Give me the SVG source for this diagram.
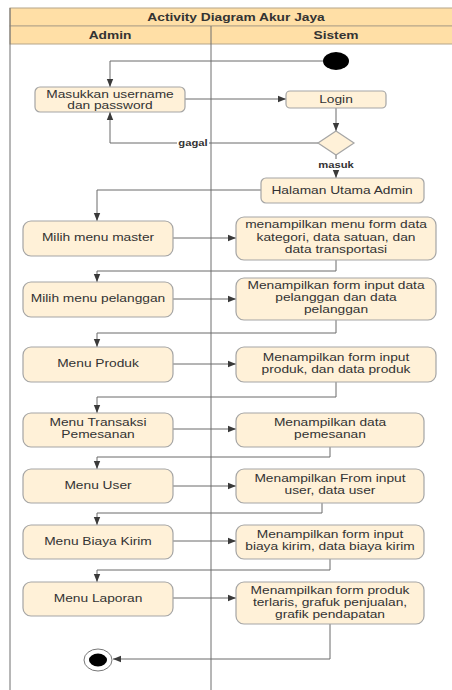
<svg xmlns="http://www.w3.org/2000/svg" width="452" height="690" viewBox="0 0 452 690">
<defs>
<marker id="ah" viewBox="0 0 10 10" refX="10" refY="5" markerWidth="8" markerHeight="8" markerUnits="userSpaceOnUse" orient="auto">
<path d="M0,1 L10,5 L0,9 z" fill="#3a3a3a"/>
</marker>
<style>
.hdr{fill:#FFDFA6;stroke:#b5a58a;stroke-width:1}
.lane{fill:none;stroke:#6f6f6f;stroke-width:1}
.box{fill:#FFF1D8;stroke:#a5a5a5;stroke-width:1.2}
.ht{font-family:"Liberation Sans",Arial,sans-serif;font-size:11px;font-weight:bold;fill:#333;text-anchor:middle}
.t{font-family:"Liberation Sans",Arial,sans-serif;font-size:11px;fill:#333;text-anchor:middle}
.lb{font-family:"Liberation Sans",Arial,sans-serif;font-size:9px;font-weight:bold;fill:#333;text-anchor:middle}
.c{fill:none;stroke:#6a6a6a;stroke-width:1;marker-end:url(#ah)}
.cn{fill:none;stroke:#6a6a6a;stroke-width:1}
</style>
</defs>
<rect width="452" height="690" fill="#ffffff"/>
<g id="frame">
<rect class="hdr" x="10" y="8" width="450" height="18"/>
<rect class="hdr" x="10" y="26" width="450" height="18"/>
<line class="lane" x1="10" y1="8" x2="10" y2="690"/>
<line class="lane" x1="211" y1="26" x2="211" y2="690"/>
<text class="ht" transform="translate(236 21) scale(1.25 1)">Activity Diagram Akur Jaya</text>
<text class="ht" transform="translate(110 39) scale(1.25 1)">Admin</text>
<text class="ht" transform="translate(336 39) scale(1.25 1)">Sistem</text>
</g>
<g id="connectors">
<path class="c" d="M323,61 H110 V87"/>
<path class="c" d="M185,99 H286"/>
<path class="c" d="M336,108 V131"/>
<path class="c" d="M318,143 H110 V112"/>
<path class="cn" d="M336,155 V159"/>
<path class="c" d="M336,170 V178"/>
<path class="c" d="M261,190 H97 V221"/>
<path class="c" d="M173,238 H236"/>
<path class="c" d="M336,260 V271 H97 V282"/>
<path class="c" d="M173,299 H236"/>
<path class="c" d="M336,320 V333 H97 V347"/>
<path class="c" d="M173,364 H236"/>
<path class="c" d="M336,382 V397 H97 V413"/>
<path class="c" d="M173,429 H236"/>
<path class="c" d="M330,447 V457 H97 V469"/>
<path class="c" d="M173,486 H236"/>
<path class="c" d="M322,503 V513 H97 V525"/>
<path class="c" d="M173,541 H236"/>
<path class="c" d="M330,559 V570 H97 V582"/>
<path class="c" d="M173,598 H236"/>
<path class="c" d="M330,624 V659 H113"/>
<rect x="177" y="138" width="32" height="10" fill="#ffffff"/>
<text class="lb" transform="translate(193 146) scale(1.25 1)">gagal</text>
<text class="lb" transform="translate(336 168) scale(1.25 1)">masuk</text>
</g>
<g id="start"><ellipse cx="336" cy="61" rx="13" ry="9" fill="#000"/></g>
<g id="n1"><rect class="box" x="35" y="87" width="150" height="25" rx="5"/><text class="t" transform="translate(110 98) scale(1.25 1)">Masukkan username</text><text class="t" transform="translate(110 109) scale(1.25 1)">dan password</text></g>
<g id="login"><rect class="box" x="286" y="91" width="100" height="17" rx="4"/><text class="t" transform="translate(336 103) scale(1.25 1)">Login</text></g>
<g id="decision"><path d="M336,131 L354,143 L336,155 L318,143 Z" fill="#FFF1D8" stroke="#a5a5a5" stroke-width="1.2"/></g>
<g id="halaman"><rect class="box" x="261" y="178" width="163" height="25" rx="5"/><text class="t" transform="translate(342 194) scale(1.25 1)">Halaman Utama Admin</text></g>
<g id="a1"><rect class="box" x="23" y="221" width="150" height="35" rx="8"/><text class="t" transform="translate(98 241) scale(1.25 1)">Milih menu master</text></g>
<g id="s1"><rect class="box" x="236" y="217" width="200" height="43" rx="8"/><text class="t" transform="translate(336 228) scale(1.25 1)">menampilkan menu form data</text><text class="t" transform="translate(336 241) scale(1.25 1)">kategori, data satuan, dan</text><text class="t" transform="translate(336 253) scale(1.25 1)">data transportasi</text></g>
<g id="a2"><rect class="box" x="23" y="282" width="150" height="35" rx="8"/><text class="t" transform="translate(98 302) scale(1.25 1)">Milih menu pelanggan</text></g>
<g id="s2"><rect class="box" x="236" y="278" width="200" height="42" rx="8"/><text class="t" transform="translate(336 289) scale(1.25 1)">Menampilkan form input data</text><text class="t" transform="translate(336 301) scale(1.25 1)">pelanggan dan data</text><text class="t" transform="translate(336 313) scale(1.25 1)">pelanggan</text></g>
<g id="a3"><rect class="box" x="23" y="347" width="150" height="35" rx="8"/><text class="t" transform="translate(98 367) scale(1.25 1)">Menu Produk</text></g>
<g id="s3"><rect class="box" x="236" y="347" width="200" height="35" rx="8"/><text class="t" transform="translate(336 361) scale(1.25 1)">Menampilkan form input</text><text class="t" transform="translate(336 373) scale(1.25 1)">produk, dan data produk</text></g>
<g id="a4"><rect class="box" x="23" y="413" width="150" height="34" rx="8"/><text class="t" transform="translate(98 426) scale(1.25 1)">Menu Transaksi</text><text class="t" transform="translate(98 438) scale(1.25 1)">Pemesanan</text></g>
<g id="s4"><rect class="box" x="236" y="413" width="188" height="34" rx="8"/><text class="t" transform="translate(330 426) scale(1.25 1)">Menampilkan data</text><text class="t" transform="translate(330 438) scale(1.25 1)">pemesanan</text></g>
<g id="a5"><rect class="box" x="23" y="469" width="150" height="34" rx="8"/><text class="t" transform="translate(98 489) scale(1.25 1)">Menu User</text></g>
<g id="s5"><rect class="box" x="236" y="469" width="188" height="34" rx="8"/><text class="t" transform="translate(330 482) scale(1.25 1)">Menampilkan From input</text><text class="t" transform="translate(330 494) scale(1.25 1)">user, data user</text></g>
<g id="a6"><rect class="box" x="23" y="525" width="150" height="34" rx="8"/><text class="t" transform="translate(98 545) scale(1.25 1)">Menu Biaya Kirim</text></g>
<g id="s6"><rect class="box" x="236" y="525" width="188" height="34" rx="8"/><text class="t" transform="translate(330 538) scale(1.25 1)">Menampilkan form input</text><text class="t" transform="translate(330 550) scale(1.25 1)">biaya kirim, data biaya kirim</text></g>
<g id="a7"><rect class="box" x="23" y="582" width="150" height="34" rx="8"/><text class="t" transform="translate(98 602) scale(1.25 1)">Menu Laporan</text></g>
<g id="s7"><rect class="box" x="236" y="582" width="188" height="42" rx="8"/><text class="t" transform="translate(330 594) scale(1.25 1)">Menampilkan form produk</text><text class="t" transform="translate(330 606) scale(1.25 1)">terlaris, grafuk penjualan,</text><text class="t" transform="translate(330 618) scale(1.25 1)">grafik pendapatan</text></g>
<g id="end"><ellipse cx="98" cy="660" rx="14" ry="11" fill="#fff" stroke="#777" stroke-width="1"/><ellipse cx="98" cy="660" rx="9" ry="6.5" fill="#000"/></g>
</svg>
